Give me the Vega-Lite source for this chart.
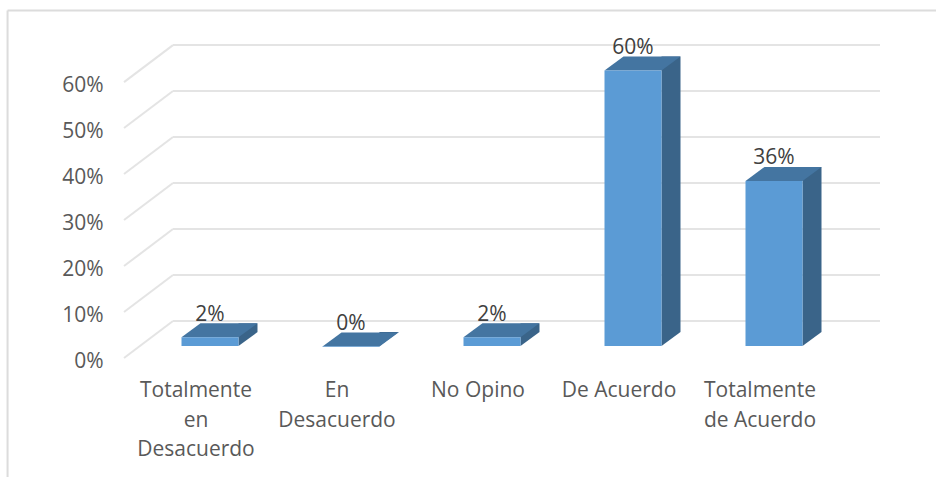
{
"$schema":"https://vega.github.io/schema/vega-lite/v6.json",
"width":936,"height":477,"padding":0,"autosize":{"type":"none"},
"background":"white",
"config":{"view":{"stroke":null},"axis":{"grid":false,"domain":false,"ticks":false}},
"datasets":{
"bars":[{"cat":"Totalmente en Desacuerdo","value":2,"label":"2%"},{"cat":"En Desacuerdo","value":0,"label":"0%"},{"cat":"No Opino","value":2,"label":"2%"},{"cat":"De Acuerdo","value":60,"label":"60%"},{"cat":"Totalmente de Acuerdo","value":36,"label":"36%"}],
"grid":[{"tick":0},{"tick":10},{"tick":20},{"tick":30},{"tick":40},{"tick":50},{"tick":60}]
},
"layer":[
{"data":{"name":"grid"},"layer":[
{"mark":{"type":"rule","color":"#e4e4e4","strokeWidth":2},
"encoding":{"x":{"datum":0,"type":"quantitative","scale":{"domain":[0,100],"range":[173,880]},"axis":null},"x2":{"datum":100},
"y":{"field":"tick","type":"quantitative","title":null,"scale":{"domain":[-33.9,69.8],"range":[477,0],"nice":false,"zero":false},"axis":{"title":null,"orient":"left","offset":-103,"domain":false,"ticks":false,"grid":false,"labelPadding":0,"labelOffset":40,"labelFont":"Open Sans","labelFontSize":21,"labelColor":"#595959","values":[0,10,20,30,40,50,60],"labelExpr":"datum.value + '%'"}}}},
{"mark":{"type":"rule","color":"#e4e4e4","strokeWidth":2,"x2Offset":-49,"y2Offset":37},
"encoding":{"x":{"datum":0,"type":"quantitative","scale":{"domain":[0,100],"range":[173,880]},"axis":null},"x2":{"datum":0},
"y":{"field":"tick","type":"quantitative","title":null},"y2":{"field":"tick"}}},
{"data":{"values":[{"edge":"top"}]},"mark":{"type":"rule","color":"#dcdcdc","strokeWidth":2},
"encoding":{"x":{"datum":-23.4,"type":"quantitative","scale":{"domain":[0,100],"range":[173,880]},"axis":null},"x2":{"datum":108},"y":{"datum":67.5,"type":"quantitative","title":null}}},
{"data":{"values":[{"edge":"left"}]},"mark":{"type":"rule","color":"#dcdcdc","strokeWidth":2},
"encoding":{"x":{"datum":-23.4,"type":"quantitative","scale":{"domain":[0,100],"range":[173,880]},"axis":null},"y":{"datum":67.5,"type":"quantitative","title":null},"y2":{"datum":-33.9}}}
]},
{"data":{"name":"bars"},
"encoding":{"x":{"field":"cat","type":"nominal","sort":null,"title":null,"scale":{"domain":["Totalmente en Desacuerdo","En Desacuerdo","No Opino","De Acuerdo","Totalmente de Acuerdo"],"range":[139.5,844.5],"padding":0},"axis":{"title":null,"orient":"bottom","offset":-97.5,"domain":false,"ticks":false,"grid":false,"labelPadding":0,"labelAngle":0,"labelOffset":-14,"labelFont":"Open Sans","labelFontSize":21,"labelColor":"#595959","labelLineHeight":29.5,"labelLimit":0,"labelBaseline":"top","labelExpr":"{'Totalmente en Desacuerdo':['Totalmente','en','Desacuerdo'],'En Desacuerdo':['En','Desacuerdo'],'No Opino':'No Opino','De Acuerdo':'De Acuerdo','Totalmente de Acuerdo':['Totalmente','de Acuerdo']}[datum.label]"}}},
"layer":[
{"mark":{"type":"bar","width":19,"xOffset":38,"yOffset":11.5,"y2Offset":11,"color":"#3a6489"},
"encoding":{"y":{"field":"value","type":"quantitative","title":null},"y2":{"datum":0}}},
{"mark":{"type":"point","filled":true,"opacity":1,"strokeWidth":0,"size":4,"yOffset":25,"color":"#3a6489","shape":"M28.5,-14 L47.5,-14 L28.5,0 Z"},
"encoding":{"y":{"datum":0,"type":"quantitative","title":null}}},
{"mark":{"type":"point","filled":true,"opacity":1,"strokeWidth":0,"size":4,"yOffset":25.5,"color":"#4475a1","shape":"M-28.5,0 L28.5,0 L47.5,-14 L-9.5,-14 Z"},
"encoding":{"y":{"field":"value","type":"quantitative","title":null}}},
{"mark":{"type":"bar","width":57,"yOffset":25.5,"y2Offset":25,"color":"#5b9bd5"},
"encoding":{"y":{"field":"value","type":"quantitative","title":null},"y2":{"datum":0}}},
{"mark":{"type":"text","font":"Open Sans","fontSize":21,"color":"#404040","baseline":"alphabetic","align":"center","dy":9},
"encoding":{"y":{"field":"value","type":"quantitative","title":null},"text":{"field":"label"}}}
]}
],
"resolve":{"scale":{"x":"independent"},"axis":{"x":"independent"}}
}
